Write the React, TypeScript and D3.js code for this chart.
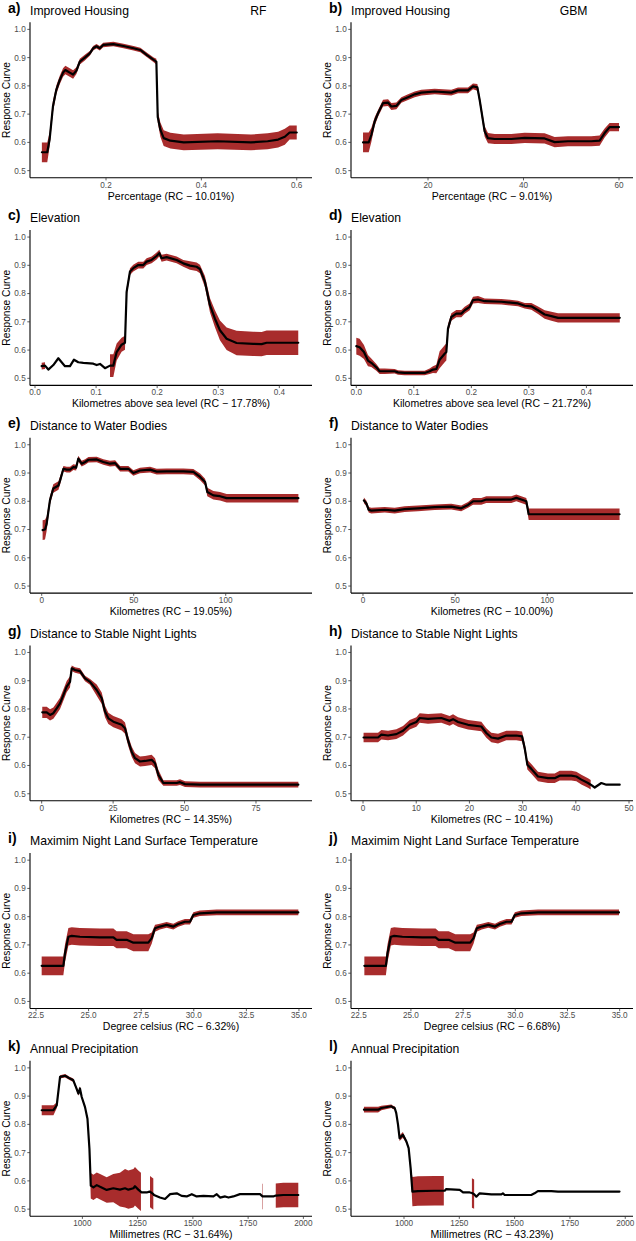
import React from 'react';
import * as d3 from 'd3';

// x values, response values and half-width of the red band (null = no band)
const aX = [0.0655, 0.0768, 0.0817, 0.0887, 0.0958, 0.1028, 0.1099, 0.1148, 0.1239, 0.131, 0.138, 0.145, 0.1556, 0.166, 0.173, 0.18, 0.187, 0.194, 0.2155, 0.2366, 0.2577, 0.272, 0.286, 0.3, 0.3056, 0.3085, 0.314, 0.321, 0.335, 0.363, 0.434, 0.504, 0.539, 0.561, 0.575, 0.585, 0.6];
const aY = [0.565, 0.565, 0.61, 0.727, 0.786, 0.82, 0.847, 0.856, 0.847, 0.84, 0.854, 0.886, 0.9, 0.915, 0.933, 0.94, 0.933, 0.945, 0.948, 0.941, 0.933, 0.927, 0.909, 0.892, 0.886, 0.69, 0.645, 0.615, 0.606, 0.6, 0.604, 0.6, 0.604, 0.61, 0.62, 0.635, 0.635];
const aB = [0.035, 0.035, 0.025, 0.02, 0.015, 0.015, 0.015, 0.015, 0.015, 0.015, 0.012, 0.01, 0.01, 0.008, 0.008, 0.008, 0.008, 0.008, 0.008, 0.008, 0.008, 0.008, 0.008, 0.008, 0.01, 0.02, 0.025, 0.028, 0.028, 0.028, 0.028, 0.028, 0.028, 0.028, 0.028, 0.025, 0.025];

const bX = [6.39, 7.58, 8.14, 8.83, 9.53, 10.58, 11.63, 12.32, 13.37, 14.42, 15.81, 17.21, 18.6, 21.4, 24.88, 26.28, 28.37, 29.42, 30.33, 30.82, 31.86, 32.56, 33.96, 37.45, 40.24, 44.42, 46.52, 49.31, 54.19, 55.94, 56.99, 58.03, 60.0];
const bY = [0.6, 0.6, 0.627, 0.674, 0.703, 0.739, 0.741, 0.727, 0.729, 0.75, 0.76, 0.77, 0.776, 0.78, 0.776, 0.784, 0.784, 0.798, 0.795, 0.75, 0.639, 0.615, 0.612, 0.612, 0.616, 0.614, 0.601, 0.604, 0.604, 0.606, 0.633, 0.654, 0.654];
const bB = [0.035, 0.035, 0.025, 0.015, 0.012, 0.012, 0.012, 0.012, 0.012, 0.01, 0.01, 0.01, 0.01, 0.01, 0.01, 0.01, 0.01, 0.01, 0.012, 0.015, 0.018, 0.018, 0.018, 0.018, 0.018, 0.018, 0.018, 0.018, 0.018, 0.018, 0.016, 0.015, 0.015];

const cX = [0.0109, 0.0164, 0.0218, 0.03, 0.0382, 0.0436, 0.0491, 0.0573, 0.0638, 0.0709, 0.0791, 0.0955, 0.1009, 0.1064, 0.1146, 0.1228, 0.1282, 0.1337, 0.1418, 0.1473, 0.15, 0.1555, 0.1609, 0.1691, 0.1773, 0.1828, 0.1909, 0.1991, 0.2035, 0.2073, 0.2155, 0.2319, 0.2428, 0.2537, 0.2646, 0.27, 0.2782, 0.2864, 0.2946, 0.3028, 0.3137, 0.33, 0.3573, 0.371, 0.3792, 0.431];
const cY = [0.543, 0.545, 0.531, 0.547, 0.571, 0.557, 0.543, 0.543, 0.566, 0.557, 0.555, 0.552, 0.547, 0.551, 0.536, 0.545, 0.545, 0.593, 0.619, 0.626, 0.806, 0.878, 0.89, 0.901, 0.901, 0.913, 0.919, 0.933, 0.943, 0.925, 0.929, 0.919, 0.907, 0.899, 0.895, 0.887, 0.842, 0.759, 0.711, 0.67, 0.64, 0.625, 0.622, 0.621, 0.626, 0.626];
const cB = [0.012, 0.012, null, null, null, null, null, null, null, null, null, null, null, null, null, 0.04, 0.04, 0.03, 0.025, 0.025, 0.015, 0.012, 0.012, 0.012, 0.012, 0.012, 0.012, 0.012, 0.012, 0.012, 0.012, 0.012, 0.012, 0.015, 0.015, 0.015, 0.02, 0.025, 0.03, 0.035, 0.04, 0.043, 0.043, 0.043, 0.043, 0.043];

const dX = [0.0, 0.0058, 0.0133, 0.0203, 0.0261, 0.0348, 0.0406, 0.0493, 0.0667, 0.0725, 0.0841, 0.1072, 0.1188, 0.1275, 0.1333, 0.1391, 0.1449, 0.1536, 0.1565, 0.1594, 0.1652, 0.1739, 0.1826, 0.1884, 0.1971, 0.2029, 0.2116, 0.2232, 0.2522, 0.2812, 0.2928, 0.3043, 0.3159, 0.3275, 0.3391, 0.3507, 0.3971, 0.458];
const dY = [0.614, 0.61, 0.593, 0.563, 0.555, 0.539, 0.525, 0.525, 0.525, 0.521, 0.519, 0.519, 0.519, 0.525, 0.531, 0.533, 0.566, 0.587, 0.593, 0.676, 0.717, 0.729, 0.729, 0.741, 0.753, 0.777, 0.779, 0.773, 0.771, 0.765, 0.757, 0.755, 0.741, 0.726, 0.72, 0.714, 0.714, 0.714];
const dB = [0.03, 0.03, 0.025, 0.02, 0.015, 0.012, 0.01, 0.01, 0.008, 0.008, 0.008, 0.008, 0.008, 0.01, 0.012, 0.015, 0.03, 0.03, 0.03, 0.015, 0.013, 0.013, 0.013, 0.012, 0.012, 0.012, 0.012, 0.01, 0.01, 0.01, 0.01, 0.012, 0.013, 0.015, 0.016, 0.016, 0.016, 0.016];

const eX = [0.5, 1.8, 2.7, 4.5, 6.3, 9.1, 10.0, 11.8, 13.6, 15.4, 17.2, 18.7, 19.9, 21.7, 23.6, 25.4, 29.9, 33.5, 37.1, 39.9, 42.6, 47.1, 49.8, 53.4, 58.9, 62.5, 67.9, 77.0, 82.4, 86.1, 88.8, 90.0, 93.3, 96.9, 100.5, 113.2, 139.5];
const eY = [0.698, 0.7, 0.721, 0.804, 0.845, 0.856, 0.874, 0.915, 0.912, 0.912, 0.921, 0.919, 0.951, 0.933, 0.939, 0.947, 0.948, 0.939, 0.933, 0.935, 0.915, 0.915, 0.9, 0.909, 0.912, 0.905, 0.906, 0.906, 0.904, 0.886, 0.868, 0.833, 0.821, 0.818, 0.811, 0.811, 0.811];
const eB = [0.035, 0.035, 0.025, 0.015, 0.015, 0.015, 0.015, 0.01, 0.01, 0.01, 0.01, 0.01, 0.01, 0.01, 0.01, 0.01, 0.01, 0.01, 0.01, 0.01, 0.01, 0.01, 0.01, 0.01, 0.01, 0.01, 0.01, 0.01, 0.01, 0.012, 0.012, 0.015, 0.015, 0.015, 0.015, 0.015, 0.015];

const fX = [0.5, 1.8, 3.1, 4.5, 11.8, 17.2, 22.6, 29.8, 38.9, 47.9, 53.3, 57.0, 59.7, 64.2, 66.9, 75.0, 80.5, 83.2, 85.9, 88.6, 89.9, 102.2, 139.2];
const fY = [0.803, 0.793, 0.77, 0.767, 0.77, 0.767, 0.772, 0.775, 0.779, 0.781, 0.775, 0.787, 0.8, 0.8, 0.806, 0.806, 0.806, 0.812, 0.806, 0.8, 0.754, 0.754, 0.754];
const fB = [0.01, 0.01, 0.01, 0.01, 0.01, 0.01, 0.01, 0.01, 0.01, 0.01, 0.01, 0.01, 0.012, 0.012, 0.012, 0.012, 0.012, 0.012, 0.012, 0.012, 0.02, 0.02, 0.02];

const gX = [0.2, 1.75, 2.92, 4.08, 5.25, 6.42, 7.58, 8.75, 9.91, 10.5, 11.66, 13.41, 15.16, 16.91, 19.25, 21.0, 22.16, 23.33, 25.08, 28.0, 29.16, 30.33, 31.49, 32.66, 34.41, 36.16, 38.49, 39.66, 40.83, 42.58, 44.91, 47.24, 48.41, 50.16, 55.41, 67.07, 89.82];
const gY = [0.788, 0.788, 0.779, 0.785, 0.802, 0.82, 0.849, 0.879, 0.896, 0.944, 0.938, 0.934, 0.908, 0.896, 0.867, 0.838, 0.791, 0.767, 0.755, 0.744, 0.732, 0.685, 0.649, 0.626, 0.614, 0.616, 0.62, 0.608, 0.567, 0.538, 0.538, 0.538, 0.541, 0.534, 0.532, 0.532, 0.532];
const gB = [0.02, 0.02, 0.02, 0.02, 0.02, 0.02, 0.02, 0.02, 0.02, 0.01, 0.01, 0.01, 0.01, 0.01, 0.02, 0.02, 0.02, 0.02, 0.02, 0.02, 0.02, 0.018, 0.018, 0.018, 0.018, 0.018, 0.018, 0.018, 0.018, 0.01, 0.01, 0.01, 0.01, 0.01, 0.01, 0.01, 0.01];

const hX = [0.1, 2.82, 3.45, 4.7, 6.27, 7.52, 8.77, 10.03, 10.65, 12.22, 14.72, 16.29, 16.92, 17.86, 19.74, 22.24, 23.18, 24.12, 25.38, 26.94, 28.82, 29.89, 30.39, 30.89, 31.64, 32.89, 34.77, 36.03, 36.97, 39.16, 40.1, 41.04, 42.29, 42.8, 43.55, 44.8, 45.74, 46.68, 48.25];
const hY = [0.699, 0.699, 0.709, 0.706, 0.711, 0.723, 0.744, 0.754, 0.768, 0.765, 0.768, 0.758, 0.764, 0.754, 0.744, 0.738, 0.715, 0.699, 0.695, 0.706, 0.706, 0.703, 0.662, 0.603, 0.588, 0.561, 0.555, 0.555, 0.564, 0.564, 0.561, 0.55, 0.538, 0.532, 0.522, 0.538, 0.532, 0.532, 0.532];
const hB = [0.017, 0.017, 0.017, 0.017, 0.017, 0.017, 0.017, 0.017, 0.017, 0.017, 0.017, 0.017, 0.017, 0.017, 0.017, 0.017, 0.017, 0.017, 0.017, 0.017, 0.017, 0.017, 0.017, 0.017, 0.017, 0.017, 0.017, 0.017, 0.017, 0.017, 0.017, 0.017, 0.017, 0.017, null, null, null, null, null];

// i) and j) read the same off the picture
const iX = [22.77, 23.8, 23.88, 24.04, 24.2, 24.59, 25.54, 26.18, 26.33, 26.81, 27.13, 27.84, 28.0, 28.16, 28.39, 28.71, 29.03, 29.26, 29.58, 29.82, 29.98, 30.29, 31.09, 34.97];
const iY = [0.626, 0.626, 0.671, 0.729, 0.732, 0.729, 0.727, 0.727, 0.718, 0.718, 0.708, 0.708, 0.724, 0.759, 0.765, 0.771, 0.765, 0.774, 0.782, 0.782, 0.806, 0.812, 0.815, 0.815];
const iB = [0.033, 0.033, 0.031, 0.031, 0.031, 0.031, 0.031, 0.031, 0.03, 0.03, 0.03, 0.03, 0.02, 0.012, 0.01, 0.01, 0.01, 0.01, 0.01, 0.01, 0.01, 0.01, 0.01, 0.01];

const kX = [816, 869, 884, 899, 922, 944, 959, 971, 982, 989, 997, 1012, 1023, 1032, 1038, 1050, 1065, 1080, 1110, 1140, 1170, 1193, 1208, 1231, 1238, 1253, 1265, 1268, 1291, 1304, 1306, 1321, 1324, 1351, 1374, 1397, 1427, 1449, 1472, 1495, 1517, 1548, 1593, 1608, 1623, 1646, 1661, 1683, 1713, 1774, 1804, 1815, 1817, 1820, 1864, 1875, 1909, 1977];
const kY = [0.85, 0.85, 0.867, 0.968, 0.972, 0.962, 0.956, 0.932, 0.909, 0.927, 0.897, 0.861, 0.82, 0.713, 0.583, 0.577, 0.585, 0.579, 0.568, 0.574, 0.569, 0.574, 0.569, 0.574, 0.581, 0.569, 0.561, 0.559, 0.559, 0.562, 0.562, 0.553, 0.55, 0.541, 0.536, 0.553, 0.556, 0.547, 0.545, 0.553, 0.545, 0.547, 0.545, 0.553, 0.541, 0.545, 0.541, 0.545, 0.553, 0.553, 0.553, 0.545, 0.545, 0.545, 0.545, 0.548, 0.55, 0.55];
const kB = [0.018, 0.018, 0.01, 0.006, 0.006, 0.006, 0.006, 0.006, 0.008, 0.008, 0.006, 0.006, 0.006, 0.006, 0.045, 0.045, 0.045, 0.045, 0.045, 0.05, 0.06, 0.068, 0.068, 0.068, 0.068, 0.068, 0.068, null, null, null, 0.055, 0.055, null, null, null, null, null, null, null, null, null, null, null, null, null, null, null, null, null, null, null, 0.045, 0.045, null, null, 0.043, 0.043, 0.043];

const lX = [819, 883, 898, 943, 950, 958, 965, 973, 980, 995, 1011, 1021, 1030, 1038, 1063, 1139, 1180, 1184, 1191, 1252, 1267, 1297, 1307, 1317, 1327, 1342, 1395, 1440, 1447, 1455, 1575, 1590, 1605, 1666, 1696, 1974];
const lY = [0.852, 0.852, 0.858, 0.864, 0.86, 0.858, 0.84, 0.799, 0.751, 0.763, 0.739, 0.716, 0.645, 0.562, 0.564, 0.565, 0.565, 0.565, 0.571, 0.568, 0.559, 0.559, 0.557, 0.553, 0.544, 0.556, 0.552, 0.552, 0.556, 0.55, 0.55, 0.556, 0.564, 0.564, 0.562, 0.562];
const lB = [0.01, 0.01, 0.008, 0.006, 0.006, 0.006, 0.006, 0.008, 0.01, 0.01, 0.006, 0.006, 0.006, 0.052, 0.052, 0.052, 0.052, null, null, null, null, null, 0.052, 0.052, null, null, null, null, null, null, null, null, null, null, null, null];

const yTicks = [0.5, 0.6, 0.7, 0.8, 0.9, 1.0];
const fracTicks = [0.0, 0.1, 0.2, 0.3, 0.4];
const kmTicks = [0, 50, 100];
const tempTicks = [22.5, 25.0, 27.5, 30.0, 32.5, 35.0];
const rainTicks = [1000, 1250, 1500, 1750, 2000];

const panels = [
  { id: 'a)', title: 'Improved Housing', model: 'RF', xlab: 'Percentage (RC \u2212 10.01%)', xs: aX, ys: aY, band: aB, domain: [0.0406, 0.632], ticks: [0.2, 0.4, 0.6], fmt: '.1f' },
  { id: 'b)', title: 'Improved Housing', model: 'GBM', xlab: 'Percentage (RC \u2212 9.01%)', xs: bX, ys: bY, band: bB, domain: [3.87, 62.93], ticks: [20, 40, 60], fmt: 'd' },
  { id: 'c)', title: 'Elevation', xlab: 'Kilometres above sea level (RC \u2212 17.78%)', xs: cX, ys: cY, band: cB, domain: [-0.0082, 0.4535], ticks: fracTicks, fmt: '.1f' },
  { id: 'd)', title: 'Elevation', xlab: 'Kilometres above sea level (RC \u2212 21.72%)', xs: dX, ys: dY, band: dB, domain: [-0.0092, 0.481], ticks: fracTicks, fmt: '.1f' },
  { id: 'e)', title: 'Distance to Water Bodies', xlab: 'Kilometres (RC \u2212 19.05%)', xs: eX, ys: eY, band: eB, domain: [-6.36, 146.9], ticks: kmTicks, fmt: 'd' },
  { id: 'f)', title: 'Distance to Water Bodies', xlab: 'Kilometres (RC \u2212 10.00%)', xs: fX, ys: fY, band: fB, domain: [-6.5, 146.5], ticks: kmTicks, fmt: 'd' },
  { id: 'g)', title: 'Distance to Stable Night Lights', xlab: 'Kilometres (RC \u2212 14.35%)', xs: gX, ys: gY, band: gB, domain: [-4.09, 94.6], ticks: [0, 25, 50, 75], fmt: 'd' },
  { id: 'h)', title: 'Distance to Stable Night Lights', xlab: 'Kilometres (RC \u2212 10.41%)', xs: hX, ys: hY, band: hB, domain: [-2.26, 50.75], ticks: [0, 10, 20, 30, 40, 50], fmt: 'd' },
  { id: 'i)', title: 'Maximim Night Land Surface Temperature', xlab: 'Degree celsius (RC \u2212 6.32%)', xs: iX, ys: iY, band: iB, domain: [22.215, 35.62], ticks: tempTicks, fmt: '.1f' },
  { id: 'j)', title: 'Maximim Night Land Surface Temperature', xlab: 'Degree celsius (RC \u2212 6.68%)', xs: iX, ys: iY, band: iB, domain: [22.13, 35.64], ticks: tempTicks, fmt: '.1f' },
  { id: 'k)', title: 'Annual Precipitation', xlab: 'Millimetres (RC \u2212 31.64%)', xs: kX, ys: kY, band: kB, domain: [763, 2039], ticks: rainTicks, fmt: 'd' },
  { id: 'l)', title: 'Annual Precipitation', xlab: 'Millimetres (RC \u2212 43.23%)', xs: lX, ys: lY, band: lB, domain: [760.5, 2035], ticks: rainTicks, fmt: 'd' },
];

const W = 636;
const H = 1241;
const rowH = 207.7;
const cols = [{ x0: 30, x1: 312 }, { x0: 351, x1: 633 }];
const font = '"Liberation Sans", Arial, Helvetica, sans-serif';
const bandColor = '#A82C2C';

function Panel({ p, idx }: { p: any; idx: number }) {
  const row = Math.floor(idx / 2);
  const { x0, x1 } = cols[idx % 2];
  const off = row * rowH;
  const top = 22.3 + off;
  const bottom = 177.7 + off;

  const x = d3.scaleLinear().domain(p.domain).range([x0, x1]);
  const y = d3.scaleLinear().domain([0.475, 1.025]).range([bottom, top]);
  const fx = d3.format(p.fmt);
  const fy = d3.format('.1f');

  const pts = p.xs.map((v: number, i: number) => ({ x: v, y: p.ys[i], b: p.band[i] ?? null }));

  const area = d3.area<any>()
    .defined((d) => d.b != null)
    .x((d) => x(d.x))
    .y0((d) => y(d.y - d.b))
    .y1((d) => y(d.y + d.b));

  const line = d3.line<any>()
    .x((d) => x(d.x))
    .y((d) => y(d.y));

  const midY = (top + bottom) / 2;

  return (
    <g>
      {/* panel letter and title */}
      <text x={x0 - 22} y={off + 12.5} fontFamily={font} fontWeight="bold" fontSize={14} fill="#000">{p.id}</text>
      <text x={x0} y={off + 14.5} fontFamily={font} fontSize={12.2} fill="#000">{p.title}</text>
      {p.model && (
        <text x={x0 + 236.5} y={off + 14.5} fontFamily={font} fontSize={12.2} textAnchor="end" fill="#000">{p.model}</text>
      )}

      {/* band and response curve */}
      <path d={area(pts) || ''} fill={bandColor} stroke="none" />
      <path d={line(pts) || ''} fill="none" stroke="#000" strokeWidth={2.2} strokeLinejoin="round" strokeLinecap="round" />

      {/* axes */}
      <line x1={x0} x2={x1} y1={bottom} y2={bottom} stroke="#000" strokeWidth={1.1} />
      <line x1={x0} x2={x0} y1={top} y2={bottom} stroke="#000" strokeWidth={1.1} />

      {yTicks.map((t) => (
        <g key={'y' + t}>
          <line x1={x0 - 2.7} x2={x0} y1={y(t)} y2={y(t)} stroke="#333" strokeWidth={0.8} />
          <text x={x0 - 4.3} y={y(t) + 2.9} textAnchor="end" fontFamily={font} fontSize={8.2} fill="#4D4D4D">{fy(t)}</text>
        </g>
      ))}
      {p.ticks.map((t: number) => (
        <g key={'x' + t}>
          <line x1={x(t)} x2={x(t)} y1={bottom} y2={bottom + 2.7} stroke="#333" strokeWidth={0.8} />
          <text x={x(t)} y={bottom + 9.8} textAnchor="middle" fontFamily={font} fontSize={8.2} fill="#4D4D4D">{fx(t)}</text>
        </g>
      ))}

      {/* axis titles */}
      <text x={(x0 + x1) / 2} y={off + 199.5} textAnchor="middle" fontFamily={font} fontSize={10.5} fill="#000">{p.xlab}</text>
      <text transform={`translate(${x0 - 20.3},${midY}) rotate(-90)`} textAnchor="middle" fontFamily={font} fontSize={10.2} fill="#000">Response Curve</text>
    </g>
  );
}

export default function App() {
  return (
    <svg width={W} height={H} style={{ position: 'absolute', left: 0, top: 0, background: '#fff' }}>
      <rect width={W} height={H} fill="#fff" />
      {panels.map((p, i) => (
        <Panel key={p.id} p={p} idx={i} />
      ))}
    </svg>
  );
}
